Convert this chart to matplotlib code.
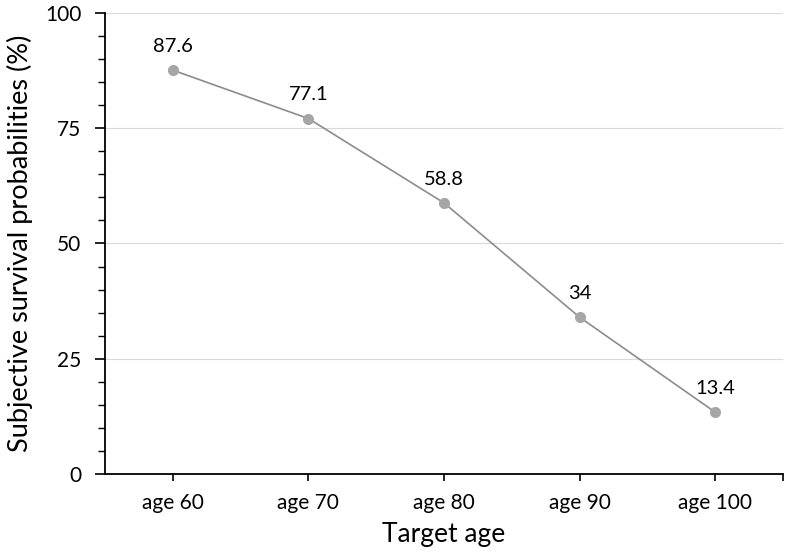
import matplotlib
matplotlib.use("Agg")
import matplotlib.pyplot as plt
from matplotlib.ticker import MultipleLocator, FixedLocator

# data
target_ages = ["age 60", "age 70", "age 80", "age 90", "age 100"]
survival_pct = [87.6, 77.1, 58.8, 34, 13.4]
point_labels = ["87.6", "77.1", "58.8", "34", "13.4"]

plt.rcParams["font.family"] = ["Lato", "DejaVu Sans"]

fig = plt.figure(figsize=(7.86, 5.53), dpi=100)
ax = fig.add_axes([0.1336, 0.1429, 0.8626, 0.8336])

x = list(range(len(target_ages)))
ax.plot(x, survival_pct, color="#8c8c8c", linewidth=1.2, zorder=3)
ax.plot(x, survival_pct, linestyle="none", marker="o", markersize=7,
        color="#a6a6a6", zorder=4)

for xi, yi, lab in zip(x, survival_pct, point_labels):
    ax.annotate(lab, xy=(xi, yi), xytext=(0, 11), textcoords="offset points",
                ha="center", va="bottom", fontsize=14.5, color="#000000")

ax.set_xlim(-0.5, len(target_ages) - 0.5)
ax.set_ylim(0, 100)
ax.set_xticks(x)
ax.set_xticklabels(target_ages)
ax.xaxis.set_minor_locator(FixedLocator([len(target_ages) - 0.5]))
ax.yaxis.set_major_locator(MultipleLocator(25))
ax.yaxis.set_minor_locator(MultipleLocator(5))
ax.tick_params(axis="y", which="major", direction="out", length=7, width=1.2,
               labelsize=15, pad=10)
ax.tick_params(axis="y", which="minor", direction="out", length=5, width=1.0)
ax.tick_params(axis="x", which="both", direction="out", length=5, width=1.2,
               labelsize=15, pad=9)

ax.grid(axis="y", which="major", color="#d9d9d9", linewidth=0.8, zorder=0)
ax.set_axisbelow(True)
for side in ["top", "right"]:
    ax.spines[side].set_visible(False)
for side in ["left", "bottom"]:
    ax.spines[side].set_linewidth(1.3)
    ax.spines[side].set_color("#000000")

ax.set_xlabel("Target age", fontsize=19, labelpad=6)
ax.set_ylabel("Subjective survival probabilities (%)", fontsize=19.5, labelpad=9)

fig.savefig("out.png", dpi=100)
